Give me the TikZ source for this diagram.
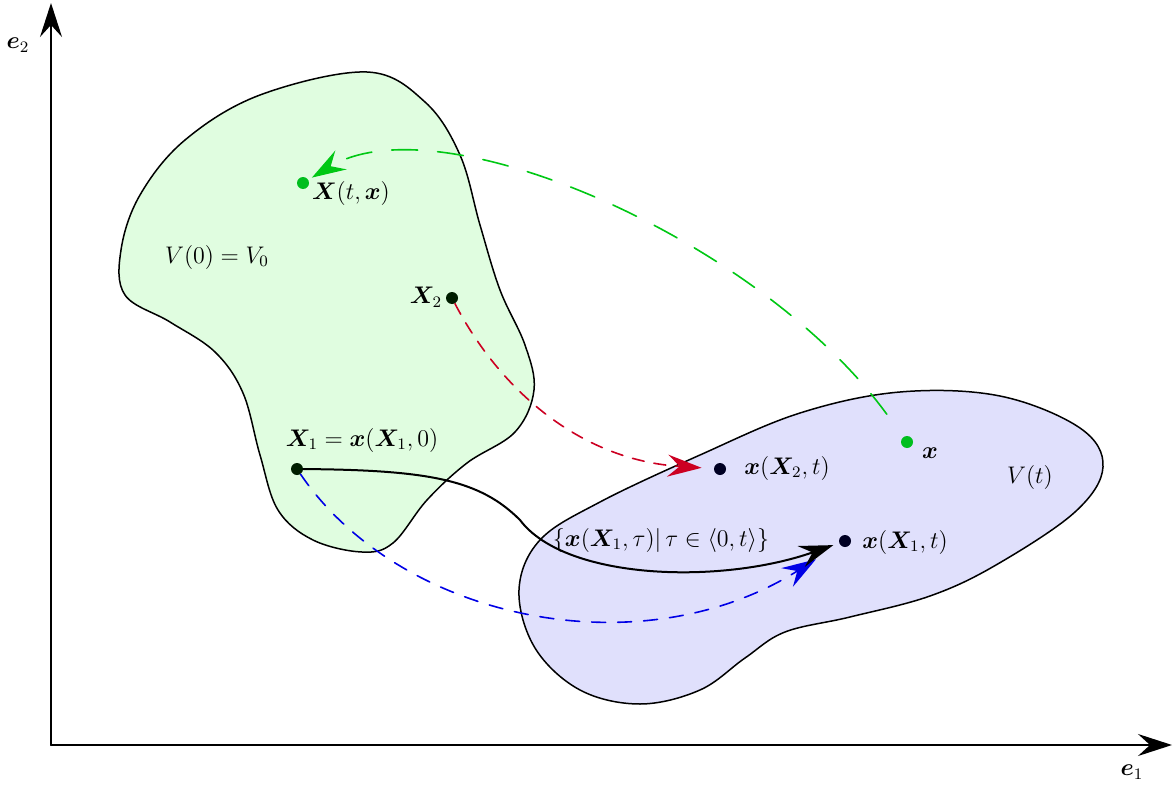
\documentclass[tikz,border=0pt]{standalone}
\usepackage{amsmath,bm}
\usetikzlibrary{arrows.meta}

\definecolor{volzero}{RGB}{224,253,224}
\definecolor{volt}{RGB}{224,224,252}
\definecolor{mapgreen}{RGB}{0,200,20}
\definecolor{dotgreen}{RGB}{0,190,30}
\definecolor{mapred}{RGB}{204,0,34}
\definecolor{mapblue}{RGB}{0,0,230}
\definecolor{darkgreen}{RGB}{0,30,0}
\definecolor{darknavy}{RGB}{0,0,35}

\tikzset{
  bigtip/.style={-{Stealth[length=17pt,width=11pt,inset=6pt]}},
  axisline/.style={line width=1pt,bigtip},
  blob/.style={line width=0.75pt,draw=black},
  pt/.style={circle,inner sep=0pt,minimum size=6pt,fill=#1},
  greenmap/.style={mapgreen,line width=0.8pt,dash pattern=on 13pt off 10pt,bigtip},
  redmap/.style={mapred,line width=0.8pt,dash pattern=on 6pt off 5pt,bigtip},
  bluemap/.style={mapblue,line width=0.8pt,dash pattern=on 7pt off 6pt,bigtip},
  pathline/.style={black,line width=1pt,bigtip}
}

\begin{document}
\begin{tikzpicture}[x=0.5pt,y=-0.5pt,line cap=round,line join=round,font=\fontsize{12}{14}\selectfont]
  \useasboundingbox (0,0) rectangle (1174,787);

  % reference and current volume
  \draw[blob,fill=volzero] plot[smooth cycle,tension=0.6] coordinates {
    (367,72) (425,102) (460,155) (480,225) (500,290) (525,345) (534,390)
    (515,432) (467,463) (427,500) (393,543) (362,552) (313,540)
    (278,510) (260,455) (243,393) (215,352) (170,322) (125,295)
    (121,250) (140,195) (185,140) (260,95)};
  \draw[blob,fill=volt] plot[smooth cycle,tension=0.6] coordinates {
    (519,590) (540,540) (600,502) (700,455) (800,413) (900,392)
    (1000,396) (1080,428) (1103,467) (1075,512) (996,565) (930,596)
    (850,617) (785,632) (745,658) (700,690) (640,704) (580,690) (535,648)};

  % axes
  \coordinate (O) at (51,745);
  \coordinate (E1) at (1172,745);
  \coordinate (E2) at (51,3);
  \draw[axisline] (O) -- (E1);
  \draw[axisline] (O) -- (E2);
  \node (e1lbl) at (1132,772) {$\bm{e}_1$};
  \node (e2lbl) at (18,45) {$\bm{e}_2$};

  % material and spatial points
  \node[pt=dotgreen] (Xtx) at (303,183) {};
  \node[pt=dotgreen] (xs) at (907,442) {};
  \node[pt=darkgreen] (X2) at (452,298) {};
  \node[pt=darkgreen] (X1) at (297,469) {};
  \node[pt=darknavy] (xX2) at (720,469) {};
  \node[pt=darknavy] (xX1) at (845,541) {};

  % labels
  \node (Xtxlbl) at (351,193) {$\bm{X}(t,\bm{x})$};
  \node (xslbl) at (930,453) {$\bm{x}$};
  \node (X2lbl) at (426,297) {$\bm{X}_2$};
  \node (X1lbl) at (362,440) {$\bm{X}_1=\bm{x}(\bm{X}_1,0)$};
  \node (xX2lbl) at (787,468) {$\bm{x}(\bm{X}_2,t)$};
  \node (xX1lbl) at (905,542) {$\bm{x}(\bm{X}_1,t)$};
  \node (V0lbl) at (217,257) {$V(0)=V_0$};
  \node (Vtlbl) at (1030,477) {$V(t)$};
  \node (trajlbl) at (661,540) {$\{\bm{x}(\bm{X}_1,\tau)|\,\tau\in\langle0,t\rangle\}$};

  % mappings
  \draw[greenmap,shorten <=14pt,shorten >=2pt] (xs) .. controls (760,240) and (440,100) .. (Xtx);
  \draw[redmap,shorten >=6pt] (X2) .. controls (500,390) and (580,460) .. (xX2);
  \draw[bluemap,shorten >=14pt] (X1) .. controls (400,620) and (640,670) .. (xX1);
  \draw[pathline,shorten >=3pt] (X1) .. controls (430,470) and (480,480) .. (520,520)
    .. controls (565,580) and (720,585) .. (xX1);
\end{tikzpicture}
\end{document}
